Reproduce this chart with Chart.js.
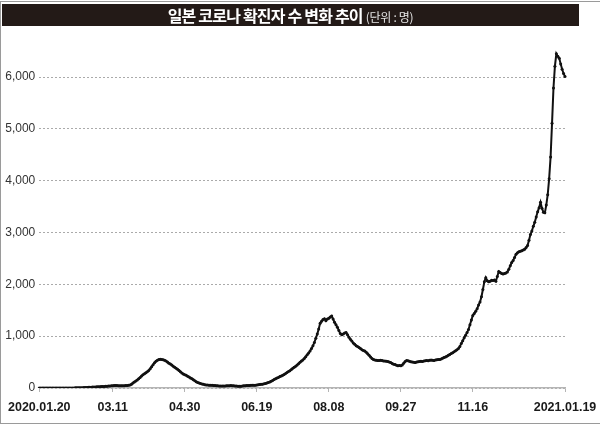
<!DOCTYPE html>
<html>
<head>
<meta charset="utf-8">
<script src="https://cdn.jsdelivr.net/npm/chart.js@4"></script>
<style>
  html, body { margin: 0; padding: 0; background: #fff; }
  body { width: 600px; height: 426px; position: relative; overflow: hidden; }
  #frame { position: absolute; left: 0; top: 1px; width: 610px; height: 423px; border: 1.5px solid #9a9a9a; box-sizing: border-box; }
  #titlebar { position: absolute; left: 2px; top: 4px; width: 577px; height: 22px; background: #231a17;
    color: #fff; text-align: center; line-height: 22px; white-space: nowrap; }
  #titlebar .main { font-family: "Noto Sans CJK KR", sans-serif; font-weight: 700; font-size: 16px; letter-spacing: -0.8px; }
  #titlebar .unit { font-family: "Noto Sans CJK KR", sans-serif; font-weight: 400; font-size: 12px; color: #e6e6e6; letter-spacing: -0.3px; margin-left: 3px; }
  #wrap { position: absolute; left: 0; top: 0; width: 600px; height: 426px; }
</style>
</head>
<body>
<div id="frame"></div>
<div id="wrap"><canvas id="c" width="600" height="426"></canvas></div>
<div id="titlebar"><span class="main">일본 코로나 확진자 수 변화 추이</span><span class="unit">(단위 : 명)</span></div>
<script>
// ---- data ----
const startDate = '2020-01-20';
const tickDates = ['2020.01.20','2020.03.11','2020.04.30','2020.06.19','2020.08.08','2020.09.27','2020.11.16','2021.01.19'];
const tickLabels = ['2020.01.20','03.11','04.30','06.19','08.08','09.27','11.16','2021.01.19'];
const yTicks = [0, 1000, 2000, 3000, 4000, 5000, 6000];

// daily confirmed cases (7-day average), Jan 20 2020 - Jan 19 2021
const casesJanFeb = [0,0,0,1,1,1,1,1,1,1,1,1,2,2,2,2,2,1,1,1,1,1,2,2,2,3,3,4,5,5,6];
const casesFebMar = [8,10,12,13,14,16,17,18,20,22,23,25,27,29,31,33,35,38,40,42];
const casesMar = [45,48,50,47,45,44,43,42,44,46,48,52,58,70];
const casesWave1Up = [95,115,135,155,180,205,230,255,275,295,315,340,370,410,450,485,515,535,548,555,552];
const casesWave1Down = [545,535,520,500,480,462,445,420,400,380,360,340,315,290,270,258,245,225,210,195,180,160,140,120,105,95,85];
const casesMayJun = [78,70,65,60,57,55,53,52,50,48,45,42,40,38,38,39,40,42,44,45,46,44,42,40,38,36,35,35];
const casesJun = [38,42,45,48,50,50,52,52,54,55,58,62,66,70,74,80,88,97,108,118];
const casesWave2Up = [130,145,163,178,192,205,220,232,245,262,280,300,318,335,355,380,402,420,445,470,495,520,540,570,605,640,675,715,760,815,880,960,1040,1140,1250];
const casesWave2Peak = [1290,1320,1335,1300,1330,1345,1370,1390,1330,1270,1220,1170,1110,1050,1030];
const casesWave2Down = [1040,1060,1070,1030,980,940,905,870,845,815,800,780,760,740,725,712,690,660,630,600,570,550,540,535,532,530,535,530,522,520,518,510,500,490,475,460,455,440,430,435,430,445];
const casesOct = [480,510,530,525,515,505,500,495,490,500,505,510,515,510,520,525,530,528,535,538,535,530,540,545,548,550,560,575];
const casesNov = [590,600,615,630,648,665,680,700,718,738,760,800,860,910,970,1020,1070,1130,1220,1310,1400,1440,1480,1530,1600,1660,1760,1900,2050,2130];
const casesDec = [2070,2050,2060,2080,2075,2085,2060,2150,2250,2230,2210,2200,2210,2220,2240,2290,2360,2420,2460,2520,2580,2610,2630,2640,2650,2665,2680,2710,2750,2850,2960,3030,3120,3200,3300,3400];
const casesJan = [3480,3585,3470,3390,3380,3530,3730,4040,4460,5110,5790,6210,6450,6400,6365,6255,6150,6070,6010];

const cases = [].concat(casesJanFeb, casesFebMar, casesMar, casesWave1Up, casesWave1Down, casesMayJun, casesJun,
  casesWave2Up, casesWave2Peak, casesWave2Down, casesOct, casesNov, casesDec, casesJan);

// category labels: consecutive days from startDate
const labels = [];
(function () {
  const d = new Date(startDate + 'T00:00:00Z');
  for (let i = 0; i < cases.length; i++) {
    const y = d.getUTCFullYear(), m = String(d.getUTCMonth() + 1).padStart(2, '0'), dd = String(d.getUTCDate()).padStart(2, '0');
    labels.push(y + '.' + m + '.' + dd);
    d.setUTCDate(d.getUTCDate() + 1);
  }
})();

new Chart(document.getElementById('c'), {
  type: 'line',
  data: {
    labels: labels,
    datasets: [{
      data: cases,
      borderColor: '#111',
      backgroundColor: '#111',
      borderWidth: 2,
      pointRadius: 1.5,
      pointBorderWidth: 0,
      pointBackgroundColor: '#111',
      tension: 0,
      fill: false
    }]
  },
  options: {
    responsive: false,
    animation: false,
    events: [],
    layout: { padding: { left: 0, right: 35, top: 46, bottom: 3 } },
    plugins: { legend: { display: false }, tooltip: { enabled: false }, title: { display: false } },
    scales: {
      x: {
        type: 'category',
        offset: false,
        afterBuildTicks: (scale) => {
          scale.ticks = scale.ticks.filter(t => tickDates.includes(labels[t.value]));
        },
        afterFit: (scale) => { scale.paddingRight = 0; },
        ticks: {
          autoSkip: false,
          maxRotation: 0,
          minRotation: 0,
          padding: 8,
          color: '#1a1a1a',
          font: { family: "'Liberation Sans', Arial, sans-serif", size: 12.5, weight: 'bold' },
          callback: (v) => tickLabels[tickDates.indexOf(labels[v])]
        },
        grid: { drawOnChartArea: false, drawTicks: true, tickLength: 4, color: '#b5b5b5', tickColor: '#b5b5b5' },
        border: { display: true, color: '#b5b5b5', width: 1.5 }
      },
      y: {
        min: 0,
        max: 6600,
        afterBuildTicks: (scale) => { scale.ticks = yTicks.map(v => ({ value: v })); },
        ticks: {
          padding: 4,
          color: '#333',
          font: { family: "'Liberation Sans', Arial, sans-serif", size: 12 },
          callback: (v) => v.toLocaleString('en-US')
        },
        grid: { drawTicks: false, color: '#aaa', lineWidth: 1, borderDash: [2, 2] },
        border: { display: false, dash: [2, 2] }
      }
    }
  }
});
</script>
</body>
</html>
